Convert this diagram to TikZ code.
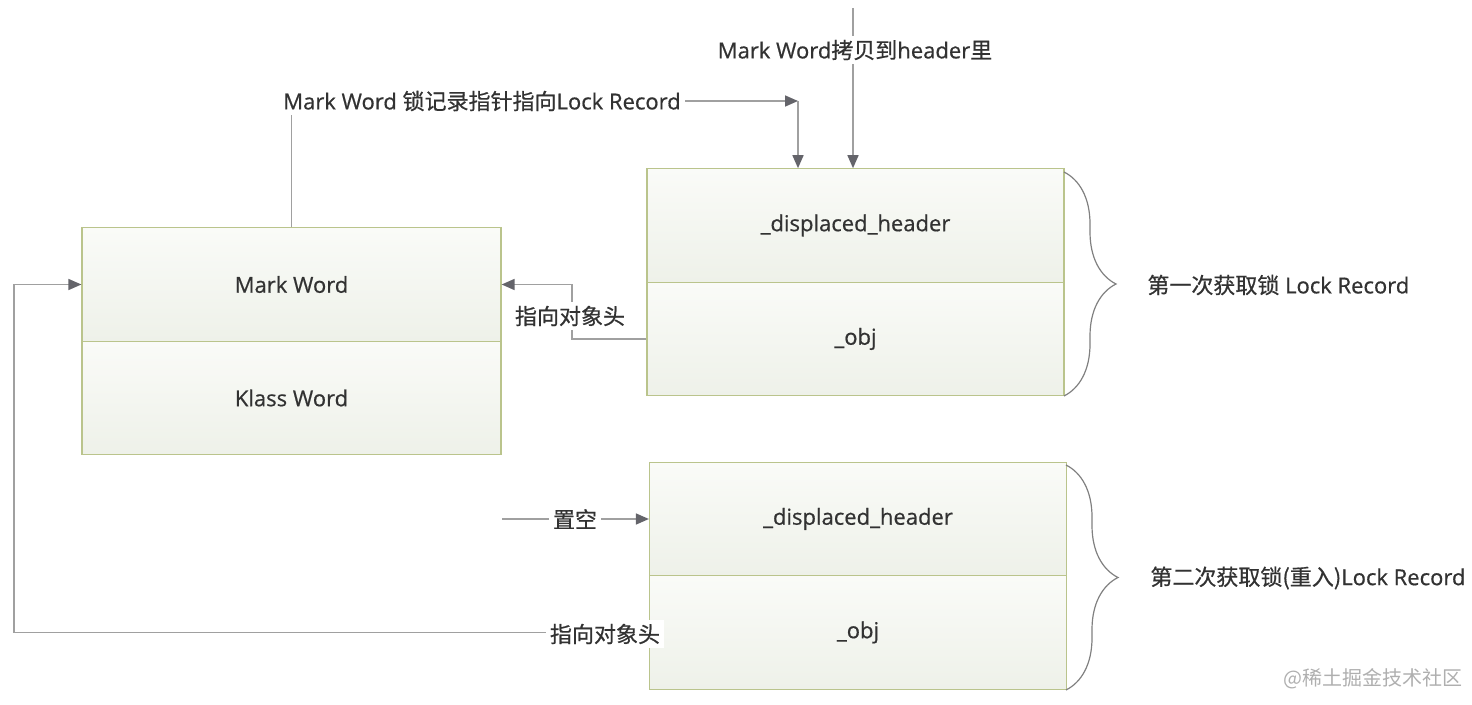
\documentclass[tikz,border=0pt]{standalone}
\usepackage{fontspec}
\setmainfont{Open Sans}[FakeBold=0.6]
\newfontfamily\cjk{Noto Sans CJK SC}[FakeBold=0.6]
\newcommand{\hz}[1]{{\cjk #1}}
\usetikzlibrary{arrows.meta}
\usetikzlibrary{decorations.pathreplacing}
\definecolor{cellline}{RGB}{186,196,140}
\definecolor{celltop}{RGB}{250,251,248}
\definecolor{cellbot}{RGB}{238,241,233}
\definecolor{linkgrey}{RGB}{160,160,160}
\definecolor{tipgrey}{RGB}{100,100,106}
\definecolor{txt}{RGB}{50,50,50}
\definecolor{wmgrey}{RGB}{175,175,175}

\begin{document}
\begin{tikzpicture}[x=0.5pt, y=-0.5pt,
    cell/.style={draw=cellline, line width=0.6pt, top color=celltop, bottom color=cellbot,
        minimum width=208.5pt, minimum height=56.7pt, inner sep=0pt, text=txt,
        font=\fontsize{11}{13}\selectfont},
    link/.style={draw=linkgrey, line width=0.8pt, -{Triangle[length=6.5pt,width=5.5pt,color=tipgrey]}},
    lbl/.style={fill=white, inner sep=2pt, text=txt, font=\fontsize{11}{13}\selectfont},
    curly/.style={draw=linkgrey!80!black, line width=0.6pt, decorate, decoration={brace, amplitude=26pt}}]
    \useasboundingbox (0,0) rectangle (1472,705);

    \node[cell, minimum width=209.5pt] (mw) at (291.5,284.5) {Mark Word};
    \node[cell, minimum width=209.5pt] (kw) at (291.5,398) {Klass Word};

    \node[cell] (dh1) at (855.5,225.5) {\_displaced\_header};
    \node[cell] (ob1) at (855.5,339) {\_obj};

    \node[cell] (dh2) at (858,519) {\_displaced\_header};
    \node[cell] (ob2) at (858,632.5) {\_obj};

    \coordinate (cp) at (853,8);
    \coordinate (lr) at (798,101);
    \coordinate (bend1) at (572,339);
    \coordinate (null) at (502,519);
    \coordinate (rail) at (14,284.5);

    \draw[link] (cp) -- (cp |- dh1.north);
    \draw[link] (mw.north) |- (lr);
    \draw[link] (lr) -- (lr |- dh1.north);
    \draw[link] (ob1.west) -- (bend1) |- (mw.east);
    \draw[link] (null) -- (dh2.west);
    \draw[link] (ob2.west) -| (rail) -- (mw.west);

    \node[lbl] (cplbl) at (855,50) {Mark Word\hz{拷贝到}header\hz{里}};
    \node[lbl] (lrlbl) at (482,101) {Mark Word \hz{锁记录指针指向}Lock Record};
    \node[lbl] (oh1) at (570,316) {\hz{指向对象头}};
    \node[lbl] (nl) at (575,519) {\hz{置空}};
    \node[lbl] (oh2) at (605,634) {\hz{指向对象头}};

    \draw[curly] (1064,172) -- (1064,396);
    \draw[curly] (1066,465) -- (1066,690);
    \node[lbl, anchor=west] (rec1) at (1143,285) {\hz{第一次获取锁} Lock Record};
    \node[lbl, anchor=west] (rec2) at (1146,578) {\hz{第二次获取锁(重入)}Lock Record};

    \node[text=wmgrey, font=\fontsize{10}{12}\selectfont] (wm) at (1373,679) {{\fontspec{Noto Sans CJK SC}@稀土掘金技术社区}};
\end{tikzpicture}
\end{document}
